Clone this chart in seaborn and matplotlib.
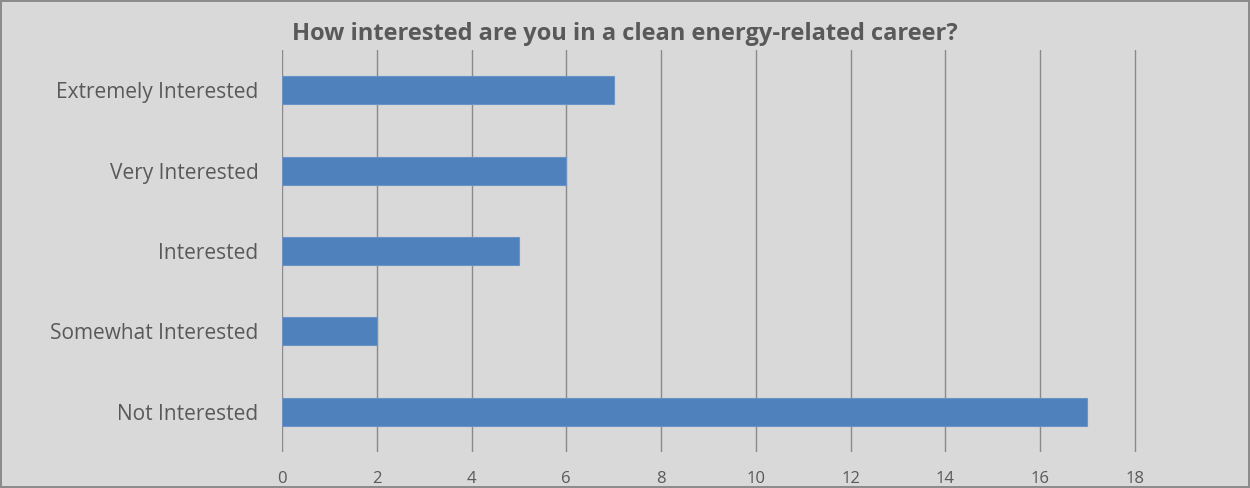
import matplotlib
matplotlib.use('Agg')
import matplotlib.pyplot as plt
import pandas as pd
import seaborn as sns

categories = ['Extremely Interested', 'Very Interested', 'Interested',
              'Somewhat Interested', 'Not Interested']
counts = [7, 6, 5, 2, 17]
x_ticks = [0, 2, 4, 6, 8, 10, 12, 14, 16, 18]

df = pd.DataFrame({'answer': categories, 'count': counts})

sns.set_style('white')
plt.rcParams['font.family'] = ['Open Sans', 'DejaVu Sans']

bg = '#d9d9d9'
fig = plt.figure(figsize=(12.5, 4.88), dpi=100, facecolor=bg,
                 edgecolor='#8c8c8c', linewidth=1.5)
ax = fig.add_axes([0.2256, 0.0738, 0.76, 0.8237])
ax.set_facecolor(bg)

sns.barplot(data=df, x='count', y='answer', order=categories, orient='h',
            color='#4f81bd', saturation=1, width=0.35, ax=ax,
            edgecolor='#6a93c6', linewidth=0.8)

ax.set_xlim(0, 20.05)
ax.set_ylim(4.5, -0.5)
ax.set_xticks(x_ticks)
ax.xaxis.grid(True, color='#8a8a8a', linewidth=1)
ax.set_axisbelow(True)
for s in ax.spines.values():
    s.set_visible(False)
ax.tick_params(axis='both', length=0, colors='#595959')
ax.tick_params(axis='y', labelsize=15, pad=17)
ax.tick_params(axis='x', labelsize=12, pad=14)
ax.set_xlabel('')
ax.set_ylabel('')

fig.suptitle('How interested are you in a clean energy-related career?',
             x=0.5, y=0.955, fontsize=17, fontweight='bold', color='#595959')

fig.savefig('out.png', dpi=100, facecolor=bg, edgecolor='#8c8c8c')
